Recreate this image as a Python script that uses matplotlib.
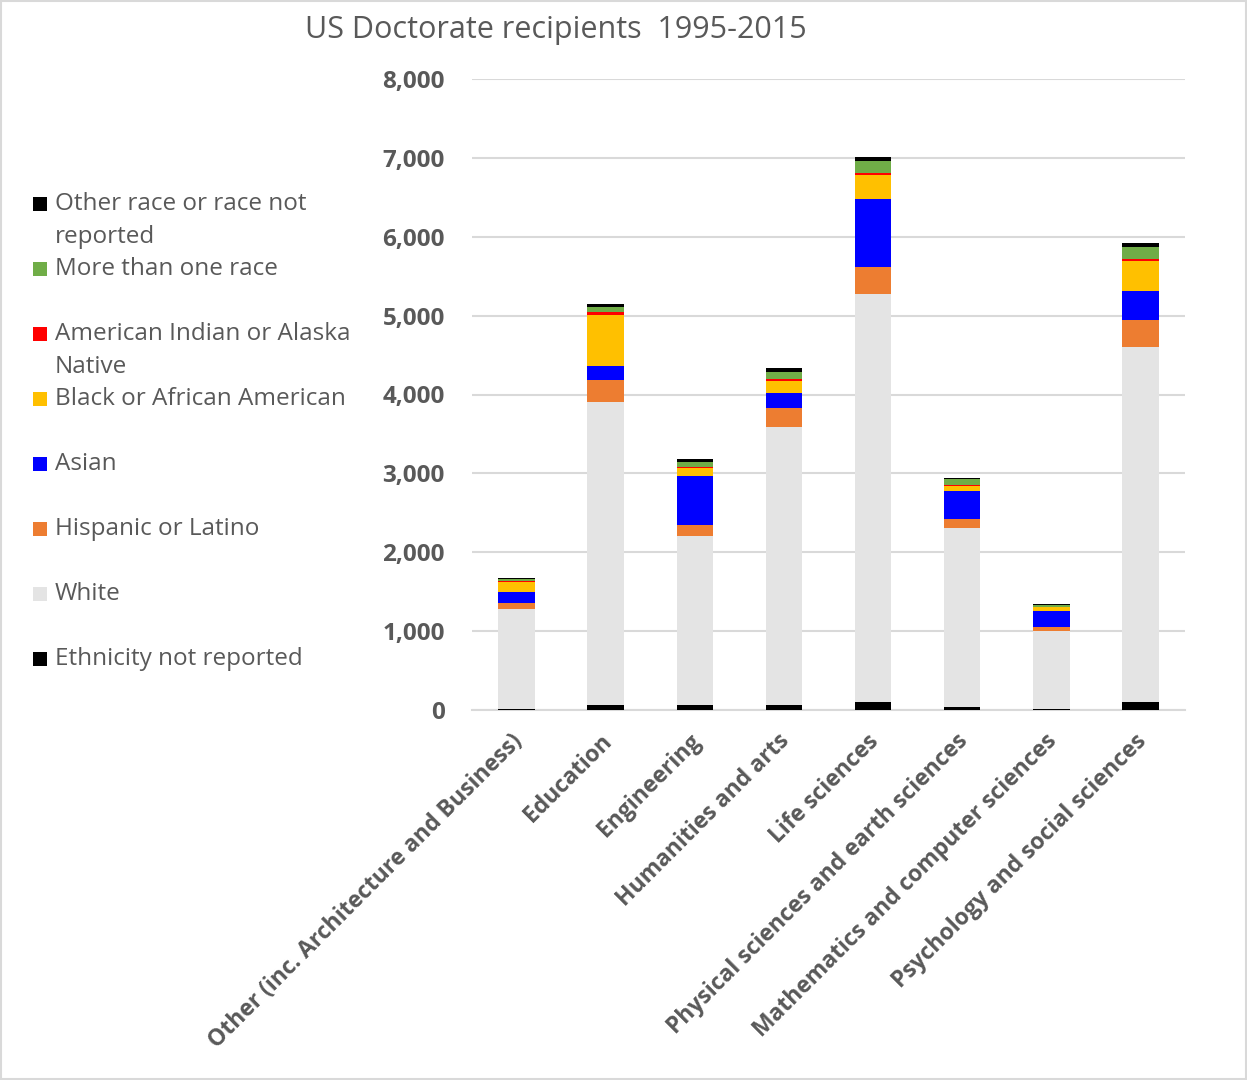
import numpy as np
import matplotlib
matplotlib.use("Agg")
import matplotlib.pyplot as plt
import matplotlib.transforms as mtransforms
from matplotlib.patches import Rectangle

categories = ["Other (inc. Architecture and Business)", "Education", "Engineering",
              "Humanities and arts", "Life sciences",
              "Physical sciences and earth sciences",
              "Mathematics and computer sciences", "Psychology and social sciences"]

# stacked bottom -> top
ethnicity_not_reported = [15, 62, 60, 60, 100, 35, 15, 100]
white = [1265, 3843, 2146, 3528, 5170, 2270, 990, 4500]
hispanic = [72, 275, 139, 245, 346, 118, 42, 350]
asian = [147, 178, 621, 186, 858, 359, 211, 368]
black = [127, 651, 106, 156, 308, 59, 42, 376]
american_indian = [10, 34, 13, 25, 21, 12, 5, 30]
more_than_one = [30, 71, 63, 84, 160, 72, 21, 152]
other_race = [13, 38, 34, 51, 51, 20, 17, 46]

series = [
    ("Ethnicity not reported", ethnicity_not_reported, "#000000"),
    ("White", white, "#E4E4E4"),
    ("Hispanic or Latino", hispanic, "#ED7D31"),
    ("Asian", asian, "#0000FF"),
    ("Black or African American", black, "#FFC000"),
    ("American Indian or Alaska\nNative", american_indian, "#FF0000"),
    ("More than one race", more_than_one, "#70AD47"),
    ("Other race or race not\nreported", other_race, "#000000"),
]

W, H = 1247, 1080
grey = "#595959"
plt.rcParams['font.family'] = ['Open Sans', 'DejaVu Sans']

fig = plt.figure(figsize=(W / 100, H / 100), dpi=100)
ax = fig.add_axes([472 / W, 1 - 710 / H, (1185 - 472) / W, 631 / H])

x = np.arange(len(categories))
bottom = np.zeros(len(categories))
for name, vals, col in series:
    ax.bar(x, vals, 0.41, bottom=bottom, color=col, zorder=3)
    bottom += np.array(vals)

ax.set_xlim(-0.5, 7.5)
ax.set_ylim(0, 8000)
ax.set_yticks(range(0, 8001, 1000))
ax.set_yticklabels([f"{v:,}" for v in range(0, 8001, 1000)],
                   fontsize=17.5, fontweight='bold', color=grey)
ax.yaxis.grid(True, color="#D9D9D9", lw=1.5, zorder=0)
for s in ["top", "right", "left"]:
    ax.spines[s].set_visible(False)
ax.spines["bottom"].set_color("#D9D9D9")
ax.spines["bottom"].set_linewidth(1.5)
ax.tick_params(axis='both', length=0)
ax.tick_params(axis='y', pad=19.5)

ax.set_xticks(x)
ax.set_xticklabels(categories, rotation=45, ha='right', va='top',
                   rotation_mode='anchor', fontsize=16.5, fontweight='bold', color=grey)
ax.tick_params(axis='x', pad=14)
shift = mtransforms.ScaledTranslation(-6 / 100, 0, fig.dpi_scale_trans)
for lbl in ax.get_xticklabels():
    lbl.set_transform(lbl.get_transform() + shift)

fig.text(556 / W, 1 - 30 / H, "US Doctorate recipients  1995-2015", ha='center', va='center',
         fontsize=22, color=grey)

# legend, drawn in Excel style slots (top entry = top of stack)
for i, (name, vals, col) in enumerate(reversed(series)):
    yc = 204 + 65 * i
    fig.patches.append(Rectangle((33 / W, 1 - (yc + 7) / H), 14 / W, 14 / H,
                                 transform=fig.transFigure, facecolor=col, edgecolor='none'))
    for j, line in enumerate(name.split("\n")):
        fig.text(55 / W, 1 - (yc + 33 * j) / H, line, ha='left', va='center',
                 fontsize=17.5, color=grey)

fig.patches.append(Rectangle((0.001, 0.001), 0.998, 0.998, transform=fig.transFigure,
                             facecolor='none', edgecolor="#D9D9D9", lw=1.5))

fig.savefig("out.png", dpi=100, facecolor='white')
